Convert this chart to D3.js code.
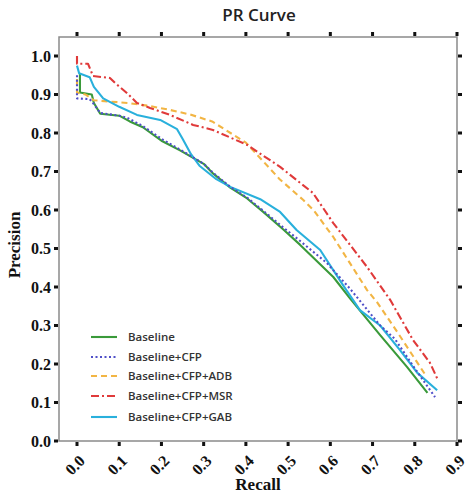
<!DOCTYPE html>
<html><head><meta charset="utf-8">
<script src="https://cdn.jsdelivr.net/npm/d3@7"></script>
<style>body{margin:0;background:#fff}svg{display:block}</style>
</head><body>
<svg id="c" width="468" height="495"></svg>
<script>
const seriesNames = ["Baseline","Baseline+CFP","Baseline+CFP+ADB","Baseline+CFP+MSR","Baseline+CFP+GAB"];
const seriesColors = ["#3a9a3a","#4f4fc8","#f2b544","#e03a3a","#29b0dc"];
const seriesDash = [null,"2,2.5","6,4","8,3,2,3",null];
const xTicks = [0,0.1,0.2,0.3,0.4,0.5,0.6,0.7,0.8,0.9];
const yTicks = [0,0.1,0.2,0.3,0.4,0.5,0.6,0.7,0.8,0.9,1.0];

const baseline = [[0.007,0.955],[0.007,0.905],[0.035,0.9],[0.04,0.878],[0.055,0.85],[0.1,0.845],[0.125,0.83],[0.156,0.815],[0.2,0.78],[0.244,0.755],[0.3,0.72],[0.322,0.695],[0.363,0.658],[0.403,0.63],[0.441,0.595],[0.488,0.55],[0.528,0.51],[0.607,0.426],[0.647,0.37],[0.718,0.275],[0.782,0.192],[0.83,0.125]];
const cfp = [[0,0.95],[0,0.89],[0.03,0.888],[0.04,0.875],[0.055,0.852],[0.1,0.845],[0.118,0.84],[0.156,0.818],[0.2,0.785],[0.244,0.757],[0.3,0.72],[0.322,0.697],[0.363,0.66],[0.403,0.632],[0.441,0.598],[0.488,0.555],[0.528,0.52],[0.592,0.462],[0.647,0.395],[0.718,0.3],[0.753,0.265],[0.796,0.195],[0.848,0.114]];
const adb = [[0,0.94],[0,0.905],[0.02,0.9],[0.04,0.885],[0.12,0.878],[0.173,0.87],[0.22,0.86],[0.268,0.848],[0.32,0.83],[0.40,0.775],[0.48,0.68],[0.536,0.626],[0.56,0.6],[0.607,0.53],[0.687,0.392],[0.711,0.36],[0.758,0.284],[0.813,0.192],[0.825,0.172]];
const msr = [[0,1.0],[0,0.98],[0.026,0.98],[0.038,0.948],[0.078,0.943],[0.09,0.93],[0.118,0.904],[0.142,0.878],[0.173,0.865],[0.22,0.847],[0.275,0.821],[0.322,0.808],[0.403,0.769],[0.481,0.712],[0.559,0.644],[0.607,0.566],[0.687,0.452],[0.742,0.366],[0.796,0.262],[0.836,0.203],[0.855,0.158]];
const gab = [[0,0.975],[0.005,0.955],[0.03,0.945],[0.04,0.92],[0.062,0.89],[0.1,0.868],[0.142,0.847],[0.197,0.834],[0.237,0.81],[0.25,0.785],[0.27,0.745],[0.29,0.715],[0.33,0.68],[0.363,0.66],[0.434,0.628],[0.481,0.595],[0.52,0.548],[0.576,0.496],[0.63,0.405],[0.67,0.34],[0.718,0.3],[0.765,0.236],[0.806,0.177],[0.853,0.132]];
const seriesData = [baseline, cfp, adb, msr, gab];

const svg = d3.select("#c");
const L=59, R=457, T=37, B=441;
const x = d3.scaleLinear().domain([0,0.9]).range([77,457]);
const y = d3.scaleLinear().domain([0,1]).range([441,56]);

// title
svg.append("text").attr("x",259).attr("y",21).attr("text-anchor","middle")
  .style("font-family","'Open Sans',sans-serif").style("font-weight","600").style("font-size","17px").attr("fill","#222").text("PR Curve");

// frame
svg.append("rect").attr("x",L).attr("y",T).attr("width",R-L).attr("height",B-T)
  .attr("fill","none").attr("stroke","#8a8a8a").attr("stroke-width",1.5);

// ticks
const tk = svg.append("g").attr("fill","#111");
xTicks.forEach(v=>{
  tk.append("rect").attr("x",x(v)-1.5).attr("y",B+1).attr("width",3).attr("height",4);
  tk.append("rect").attr("x",x(v)-1.5).attr("y",T-5).attr("width",3).attr("height",4);
});
yTicks.forEach(v=>{
  tk.append("rect").attr("x",L-5).attr("y",y(v)-1.5).attr("width",4).attr("height",3);
  tk.append("rect").attr("x",R+1).attr("y",y(v)-1.5).attr("width",4).attr("height",3);
});

// y labels
const serif = "'Liberation Serif','Times New Roman',serif";
svg.append("g").selectAll("text").data(yTicks).join("text")
  .attr("x",51).attr("y",d=>y(d)).attr("dy","0.35em").attr("text-anchor","end")
  .style("font-family",serif).style("font-weight","bold").style("font-size","16px").attr("fill","#111")
  .text(d=>d3.format(".1f")(d));
// x labels
svg.append("g").selectAll("text").data(xTicks).join("text")
  .attr("transform",d=>`translate(${x(d)+1},${454}) rotate(-45)`).attr("text-anchor","end").attr("dy","0.7em")
  .style("font-family",serif).style("font-weight","bold").style("font-size","16px").attr("fill","#111")
  .text(d=>d3.format(".1f")(d));

svg.append("text").attr("x",258).attr("y",490).attr("text-anchor","middle")
  .style("font-family",serif).style("font-weight","bold").style("font-size","17px").attr("fill","#111").text("Recall");
svg.append("text").attr("transform","translate(20,245) rotate(-90)").attr("text-anchor","middle")
  .style("font-family",serif).style("font-weight","bold").style("font-size","17px").attr("fill","#111").text("Precision");

// curves
const line = d3.line().x(d=>x(d[0])).y(d=>y(d[1]));
const order = [0,2,3,4,1];
order.forEach(i=>{
  svg.append("path").attr("d",line(seriesData[i])).attr("fill","none")
    .attr("stroke",seriesColors[i]).attr("stroke-width",2.1)
    .attr("stroke-dasharray",seriesDash[i]).attr("stroke-linejoin","round");
});

// legend
const ly = [337,357,376,396,417];
const lg = svg.append("g");
seriesNames.forEach((n,i)=>{
  lg.append("line").attr("x1",91).attr("x2",117).attr("y1",ly[i]).attr("y2",ly[i])
    .attr("stroke",seriesColors[i]).attr("stroke-width",2.1).attr("stroke-dasharray",seriesDash[i]);
  lg.append("text").attr("x",128).attr("y",ly[i]).attr("dy","0.35em")
    .style("font-family","'Open Sans',sans-serif").style("font-weight","600").style("font-size","11.5px").attr("fill","#333").text(n);
});
</script>
</body></html>
